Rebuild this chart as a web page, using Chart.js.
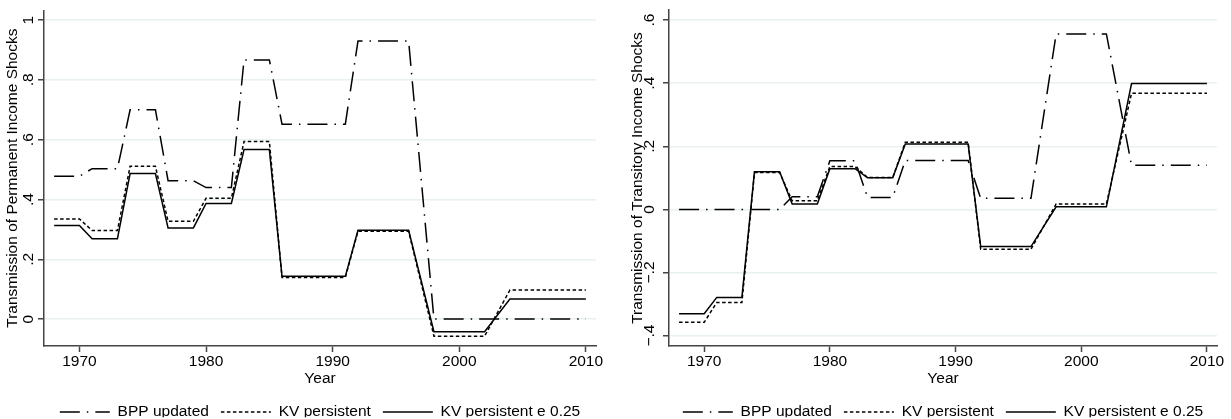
<!DOCTYPE html>
<html>
<head>
<meta charset="utf-8">
<script src="https://cdn.jsdelivr.net/npm/chart.js@4/dist/chart.umd.min.js"></script>
<style>
  body { margin: 0; background: #fff; }
  #wrap { position: relative; width: 1231px; height: 419px; background: #fff; }
  canvas { position: absolute; top: 0; }
</style>
</head>
<body>
<div id="wrap">
  <canvas id="permChart" width="610" height="419" style="left:0px"></canvas>
  <canvas id="tranChart" width="606" height="419" style="left:625px"></canvas>
</div>
<script>
// years in the sample (biennial after 1996)
var years = [1968, 1969, 1970, 1971, 1972, 1973, 1974, 1975, 1976, 1977, 1978, 1979,
  1980, 1981, 1982, 1983, 1984, 1985, 1986, 1987, 1988, 1989, 1990, 1991,
  1992, 1993, 1994, 1995, 1996, 1998, 2000, 2002, 2004, 2006, 2008, 2010];

// left panel: permanent shocks
var permBPP = [0.478, 0.478, 0.478, 0.503, 0.503, 0.503, 0.700, 0.700, 0.700,
  0.463, 0.463, 0.463, 0.440, 0.440, 0.440, 0.867, 0.867, 0.867,
  0.652, 0.652, 0.652, 0.652, 0.652, 0.652, 0.930, 0.930, 0.930, 0.930, 0.930,
  0, 0, 0, 0, 0, 0, 0];
var permKV = [0.335, 0.335, 0.335, 0.296, 0.296, 0.296, 0.511, 0.511, 0.511,
  0.327, 0.327, 0.327, 0.404, 0.404, 0.404, 0.594, 0.594, 0.594,
  0.139, 0.139, 0.139, 0.139, 0.139, 0.139, 0.294, 0.294, 0.294, 0.294, 0.294,
  -0.057, -0.057, -0.057, 0.097, 0.097, 0.097, 0.097];
var permKVe = [0.313, 0.313, 0.313, 0.269, 0.269, 0.269, 0.487, 0.487, 0.487,
  0.305, 0.305, 0.305, 0.387, 0.387, 0.387, 0.567, 0.567, 0.567,
  0.143, 0.143, 0.143, 0.143, 0.143, 0.143, 0.297, 0.297, 0.297, 0.297, 0.297,
  -0.042, -0.042, -0.042, 0.067, 0.067, 0.067, 0.067];

// right panel: transitory shocks
var tranBPP = [0, 0, 0, 0, 0, 0, 0, 0, 0,
  0.040, 0.040, 0.040, 0.154, 0.154, 0.154, 0.038, 0.038, 0.038,
  0.155, 0.155, 0.155, 0.155, 0.155, 0.155, 0.035, 0.035, 0.035, 0.035, 0.035,
  0.556, 0.556, 0.556, 0.140, 0.140, 0.140, 0.140];
var tranKV = [-0.358, -0.358, -0.358, -0.295, -0.295, -0.295, 0.117, 0.117, 0.117,
  0.027, 0.027, 0.027, 0.136, 0.136, 0.136, 0.101, 0.101, 0.101,
  0.213, 0.213, 0.213, 0.213, 0.213, 0.213, -0.126, -0.126, -0.126, -0.126, -0.126,
  0.017, 0.017, 0.017, 0.368, 0.368, 0.368, 0.368];
var tranKVe = [-0.331, -0.331, -0.331, -0.279, -0.279, -0.279, 0.119, 0.119, 0.119,
  0.017, 0.017, 0.017, 0.129, 0.129, 0.129, 0.100, 0.100, 0.100,
  0.207, 0.207, 0.207, 0.207, 0.207, 0.207, -0.118, -0.118, -0.118, -0.118, -0.118,
  0.008, 0.008, 0.008, 0.399, 0.399, 0.399, 0.399];

var seriesNames = ["BPP updated", "KV persistent", "KV persistent e 0.25"];

var xTicks = [1970, 1980, 1990, 2000, 2010];
var xTickLabels = ["1970", "1980", "1990", "2000", "2010"];
var permYTicks = [0, 0.2, 0.4, 0.6, 0.8, 1];
var permYTickLabels = ["0", ".2", ".4", ".6", ".8", "1"];
var tranYTicks = [-0.4, -0.2, 0, 0.2, 0.4, 0.6];
var tranYTickLabels = ["\u2212.4", "\u2212.2", "0", ".2", ".4", ".6"];

Chart.defaults.font.family = "'Liberation Sans', Arial, sans-serif";
Chart.defaults.color = "#000";

var axisColor = "#444";
var gridColor = "#e9f0f1";
var fnt = { size: 15.5, lineHeight: 1 };
var dashes = [[20, 7, 1.5, 7], [3.5, 2.5], []];

function toPoints(vals) {
  return vals.map(function (v, i) { return { x: years[i], y: v }; });
}

// legend: line samples with the same dash as the series
function legendLabels(chart) {
  var items = Chart.defaults.plugins.legend.labels.generateLabels(chart);
  items.forEach(function (it, i) {
    it.lineDash = dashes[i];
    it.lineWidth = 1.5;
    it.strokeStyle = "#000";
    it.pointStyle = "line";
    it.rotation = 0;
  });
  return items;
}

// note: chart.js counts ticks.padding twice in the axis size
function makeChart(id, bpp, kv, kve, yMin, yMax, yTicks, yLabels, yTitle, yTitlePad) {
  var ctx = document.getElementById(id).getContext("2d");
  return new Chart(ctx, {
    type: "line",
    data: {
      datasets: [
        { label: seriesNames[0], data: toPoints(bpp), borderColor: "#000", borderWidth: 1.5,
          borderDash: dashes[0], pointRadius: 0, fill: false, tension: 0 },
        { label: seriesNames[1], data: toPoints(kv), borderColor: "#000", borderWidth: 1.5,
          borderDash: dashes[1], pointRadius: 0, fill: false, tension: 0 },
        { label: seriesNames[2], data: toPoints(kve), borderColor: "#000", borderWidth: 1.5,
          borderDash: dashes[2], pointRadius: 0, fill: false, tension: 0 },
      ],
    },
    options: {
      responsive: false,
      animation: false,
      layout: { padding: { top: 10, right: 14, bottom: 1.75, left: 0 } },
      plugins: {
        tooltip: { enabled: false },
        legend: {
          position: "bottom",
          fullSize: false,
          maxHeight: 25,
          labels: {
            usePointStyle: true,
            pointStyle: "line",
            pointStyleWidth: 50,
            padding: 12,
            color: "#000",
            font: { size: 15.5 },
            generateLabels: legendLabels,
          },
        },
      },
      scales: {
        x: {
          type: "linear",
          min: 1967.2,
          max: 2010.8,
          afterBuildTicks: function (s) { s.ticks = xTicks.map(function (v) { return { value: v }; }); },
          ticks: {
            maxRotation: 0,
            padding: 2.25,
            font: fnt,
            callback: function (v, i) { return xTickLabels[i]; },
          },
          grid: { drawOnChartArea: false, tickLength: 6, tickColor: axisColor, tickWidth: 1.5 },
          border: { color: axisColor, width: 1.5 },
          title: { display: true, text: "Year", font: fnt, padding: { top: -0.75, bottom: 5.5 } },
        },
        y: {
          min: yMin,
          max: yMax,
          afterBuildTicks: function (s) { s.ticks = yTicks.map(function (v) { return { value: v }; }); },
          ticks: {
            minRotation: 90,
            maxRotation: 90,
            crossAlign: "center",
            padding: yTitlePad.tick,
            font: fnt,
            callback: function (v, i) { return yLabels[i]; },
          },
          grid: { color: gridColor, lineWidth: 1.5, tickLength: 6, tickColor: axisColor, tickWidth: 1.5 },
          border: { color: axisColor, width: 1.5 },
          title: { display: true, text: yTitle, font: fnt,
            padding: { top: 4.75, bottom: yTitlePad.bottom } },
        },
      },
    },
  });
}

makeChart("permChart", permBPP, permKV, permKVe, -0.09, 1.033, permYTicks, permYTickLabels,
  "Transmission of Permanent Income Shocks", { tick: 2.5, bottom: -2.75 });
makeChart("tranChart", tranBPP, tranKV, tranKVe, -0.433, 0.632, tranYTicks, tranYTickLabels,
  "Transmission of Transitory Income Shocks", { tick: 2, bottom: -1.75 });
</script>
</body>
</html>
